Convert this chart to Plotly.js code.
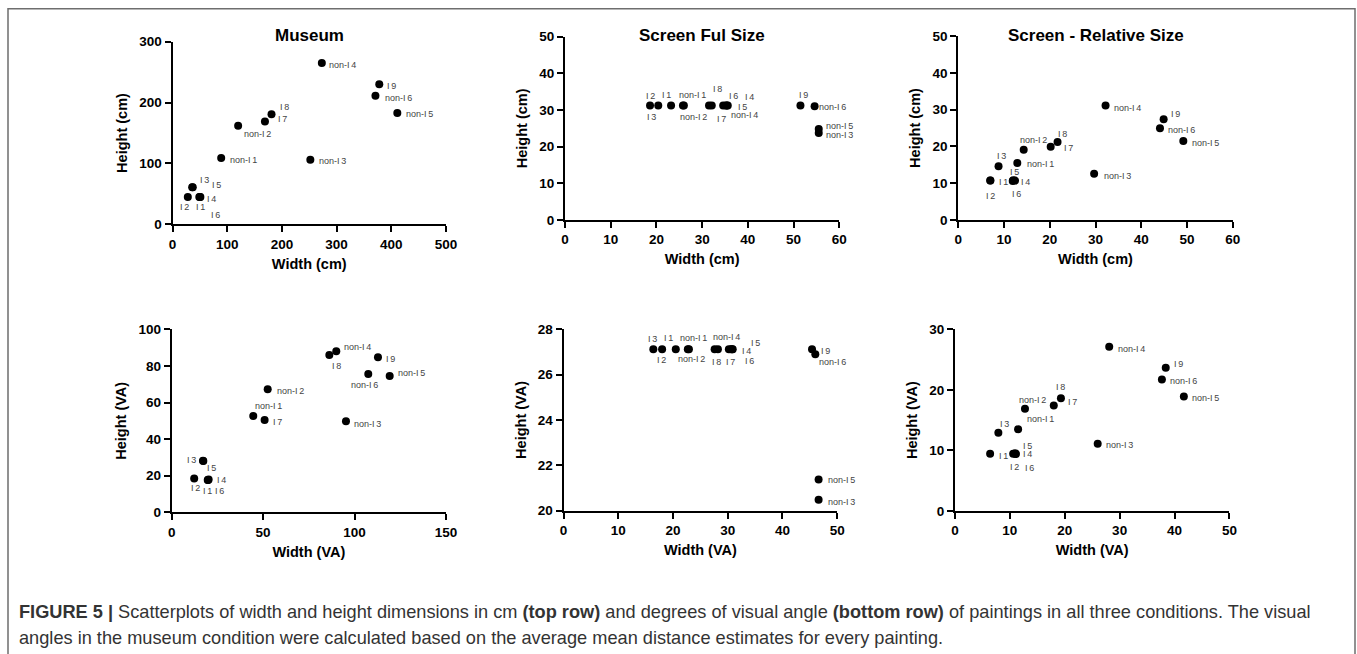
<!DOCTYPE html>
<html>
<head>
<meta charset="utf-8">
<script src="https://cdn.plot.ly/plotly-3.0.1.min.js"></script>
<style>
html,body{margin:0;padding:0;background:#fff;}
#chart{width:1357px;height:654px;}
</style>
</head>
<body>
<div id="chart"></div>
<script>
// ---------------- DATA ----------------
const paintings = ["I1","I2","I3","I4","I5","I6","I7","I8","I9","non-I1","non-I2","non-I3","non-I4","non-I5","non-I6"];

// Museum (cm)
const museumCmWidth  = [49, 28, 36, 51, 37, 50, 169, 181, 378, 89, 120, 252, 273, 411, 371];
const museumCmHeight = [45, 45, 61, 45, 61, 45, 169, 181, 230, 109, 162, 106, 265, 183, 211];

// Screen full size (cm)
const fullCmWidth  = [23.2, 20.4, 18.6, 35.6, 35.2, 34.6, 32.1, 31.5, 51.5, 25.8, 26.0, 55.5, 35.4, 55.5, 54.6];
const fullCmHeight = [31.2, 31.2, 31.2, 31.2, 31.2, 31.2, 31.2, 31.2, 31.2, 31.2, 31.2, 23.7, 31.2, 24.8, 31.0];

// Screen relative size (cm)
const relCmWidth  = [7.0, 7.0, 8.8, 12.4, 12.0, 11.9, 20.2, 21.7, 44.9, 12.9, 14.3, 29.7, 32.2, 49.2, 44.1];
const relCmHeight = [10.7, 10.7, 14.6, 10.7, 10.8, 10.6, 19.9, 21.2, 27.4, 15.5, 19.1, 12.6, 31.1, 21.5, 24.9];

// Museum (visual angle)
const museumVaWidth  = [19.7, 12.3, 17.1, 20.2, 17.3, 19.9, 50.8, 86.2, 112.8, 44.6, 52.5, 95.3, 90.0, 119.2, 107.5];
const museumVaHeight = [17.7, 18.5, 28.2, 17.9, 28.0, 17.6, 50.4, 86.0, 84.7, 52.6, 67.2, 49.7, 88.0, 74.5, 75.6];

// Screen full size (visual angle)
const fullVaWidth  = [20.5, 18.0, 16.4, 30.6, 30.8, 30.9, 30.2, 28.2, 45.4, 22.7, 22.9, 46.6, 27.6, 46.6, 46.0];
const fullVaHeight = [27.12, 27.12, 27.12, 27.12, 27.12, 27.12, 27.12, 27.12, 27.12, 27.12, 27.12, 20.48, 27.12, 21.37, 26.9];

// Screen relative size (visual angle)
const relVaWidth  = [6.4, 10.6, 7.9, 11.0, 10.9, 11.1, 18.0, 19.3, 38.4, 11.5, 12.75, 26.0, 28.1, 41.7, 37.7];
const relVaHeight = [9.45, 9.45, 12.9, 9.5, 9.5, 9.4, 17.4, 18.6, 23.65, 13.5, 16.9, 11.1, 27.1, 18.9, 21.7];

const panelTitles = ["Museum", "Screen Ful Size", "Screen - Relative Size"];

// ---------------- STYLE / LAYOUT ----------------
const W = 1357, H = 654;
const F = "Liberation Sans, Arial, Helvetica, sans-serif";

// label offsets in px [dx, dy(down)] per painting, per panel
const labelOffsets = [
  [[1,9.7],[-3,9.7],[12,-7],[11.3,2],[23.4,-1.7],[15.3,18],[17.3,-2.3],[12.7,-6.7],[12.7,2],[22,2.3],[19.7,8.3],[22.3,1.7],[21,2],[22,1.3],[22.7,2.3]],
  [[-4.4,-11],[-7.6,-10],[1.7,11.3],[21.5,-8.3],[16.8,1.3],[10.1,-9.3],[9.9,13.3],[8.3,-16.7],[3.5,-10.3],[9.7,-10.3],[9.4,11.3],[20.6,1.5],[17.5,9.7],[20.6,-2.7],[18.1,1.1]],
  [[12.7,1.7],[0,15],[3.3,-10.3],[10.9,1.7],[1.3,-8.3],[3.5,13.3],[18.3,1],[5,-8.3],[12.3,-4.7],[23.3,0.7],[10,-10],[23,2.7],[21.7,2.7],[21.7,1.7],[22,1.7]],
  [[-0.3,10.7],[1.7,10],[-11.3,-0.3],[13.1,0.4],[7.9,7],[11.9,11],[12.7,1.7],[6.7,10.7],[12.3,1.3],[15.7,-10.3],[22.3,1.7],[22,2.3],[21.7,-4],[22,-3],[-3.3,11]],
  [[-7.5,-10.9],[-1.1,10.8],[-1,-9.9],[15,1.8],[23.2,-5.9],[16.6,11.8],[2.1,13.1],[-1.2,13.1],[13,1.8],[5.5,-10.9],[2.8,10.1],[22.4,2],[12.1,-11.9],[22.4,0.8],[17,8.1]],
  [[13,2],[1,13.7],[5.7,-9.3],[12.3,0.3],[13,-7],[13.7,13.7],[18.3,-4],[0,-11.3],[12.3,-3.3],[22,-10.7],[7.3,-9],[21.7,1.3],[22,1.7],[22,1.3],[21.7,1.7]]
];

const panels = [
  {x: museumCmWidth, y: museumCmHeight, xr:[0,500], xd:100, yr:[0,300], yd:100, xt:"Width (cm)", yt:"Height (cm)", box:[172.5,446,224.3,41.7], title: panelTitles[0]},
  {x: fullCmWidth,   y: fullCmHeight,   xr:[0,60],  xd:10,  yr:[0,50],  yd:10,  xt:"Width (cm)", yt:"Height (cm)", box:[565,839.3,220,36.7], title: panelTitles[1]},
  {x: relCmWidth,    y: relCmHeight,    xr:[0,60],  xd:10,  yr:[0,50],  yd:10,  xt:"Width (cm)", yt:"Height (cm)", box:[958.3,1232.7,220,36], title: panelTitles[2]},
  {x: museumVaWidth, y: museumVaHeight, xr:[0,150], xd:50,  yr:[0,100], yd:20,  xt:"Width (VA)", yt:"Height (VA)", box:[171.7,446,512.3,329.3]},
  {x: fullVaWidth,   y: fullVaHeight,   xr:[0,50],  xd:10,  yr:[20,28], yd:2,   xt:"Width (VA)", yt:"Height (VA)", box:[563.6,837.2,510.6,329.3]},
  {x: relVaWidth,    y: relVaHeight,    xr:[0,50],  xd:10,  yr:[0,30],  yd:10,  xt:"Width (VA)", yt:"Height (VA)", box:[955,1229.4,511,329.3]}
];

function labelText(n){ return n.replace(/I(\d)/, "I\u2009$1"); }

const traces = [];
const annotations = [];
const layout = {
  width: W, height: H,
  margin: {l:0, r:0, t:0, b:0},
  paper_bgcolor: "#fff", plot_bgcolor: "#fff",
  showlegend: false,
  font: {family: F, color: "#000"},
  shapes: [{
    type: "rect", xref: "paper", yref: "paper",
    x0: 8/W, x1: 1355/W, y0: -0.05, y1: 1 - 8.7/H,
    line: {color: "#6e6e6e", width: 1.5}, fillcolor: "rgba(0,0,0,0)"
  }]
};

panels.forEach((p, i) => {
  const k = i + 1;
  const xa = "x" + (k === 1 ? "" : k), ya = "y" + (k === 1 ? "" : k);
  const xkey = "xaxis" + (k === 1 ? "" : k), ykey = "yaxis" + (k === 1 ? "" : k);
  const [bx0, bx1, byb, byt] = p.box;
  const common = {
    showgrid: false, zeroline: false, showline: true, linecolor: "#000", linewidth: 2,
    ticks: "outside", ticklen: 6, tickwidth: 2, tickcolor: "#000", tick0: 0,
    tickfont: {family: F, size: 13.5, color: "#000", weight: "bold"},
    fixedrange: true
  };
  layout[xkey] = Object.assign({}, common, {
    domain: [bx0 / W, bx1 / W], range: p.xr, dtick: p.xd, anchor: ya,
    title: {text: p.xt, font: {family: F, size: 14.5, color: "#000", weight: "bold"}, standoff: 8}
  });
  layout[ykey] = Object.assign({}, common, {
    domain: [1 - byb / H, 1 - byt / H], range: p.yr, dtick: p.yd, anchor: xa,
    title: {text: p.yt, font: {family: F, size: 14.5, color: "#000", weight: "bold"}, standoff: 8}
  });
  traces.push({
    type: "scatter", mode: "markers", x: p.x, y: p.y, xaxis: xa, yaxis: ya,
    marker: {color: "#000", size: 8, line: {width: 0}},
    text: paintings, hoverinfo: "text+x+y", cliponaxis: false
  });
  paintings.forEach((n, j) => {
    const off = labelOffsets[i][j];
    annotations.push({
      xref: xa, yref: ya, x: p.x[j], y: p.y[j], text: labelText(n), showarrow: false,
      xanchor: "center", yanchor: "middle", xshift: off[0], yshift: -off[1],
      font: {family: F, size: 9, color: "#444"}
    });
  });
  if (p.title) {
    annotations.push({
      xref: "paper", yref: "paper", x: (bx0 + bx1) / 2 / W, y: 1 - 35 / H,
      text: "<b>" + p.title + "</b>", showarrow: false, xanchor: "center", yanchor: "middle",
      font: {family: F, size: 17, color: "#000"}
    });
  }
});

// caption
annotations.push({
  xref: "paper", yref: "paper", x: 17 / W, y: 1 - 612 / H, xanchor: "left", yanchor: "middle", showarrow: false,
  text: "<b>FIGURE 5 |</b> Scatterplots of width and height dimensions in cm <b>(top row)</b> and degrees of visual angle <b>(bottom row)</b> of paintings in all three conditions. The visual",
  font: {family: F, size: 18.2, color: "#333"}
});
annotations.push({
  xref: "paper", yref: "paper", x: 17 / W, y: 1 - 638 / H, xanchor: "left", yanchor: "middle", showarrow: false,
  text: "angles in the museum condition were calculated based on the average mean distance estimates for every painting.",
  font: {family: F, size: 18.2, color: "#333"}
});

layout.annotations = annotations;

Plotly.newPlot("chart", traces, layout, {displayModeBar: false, responsive: false});
</script>
</body>
</html>
